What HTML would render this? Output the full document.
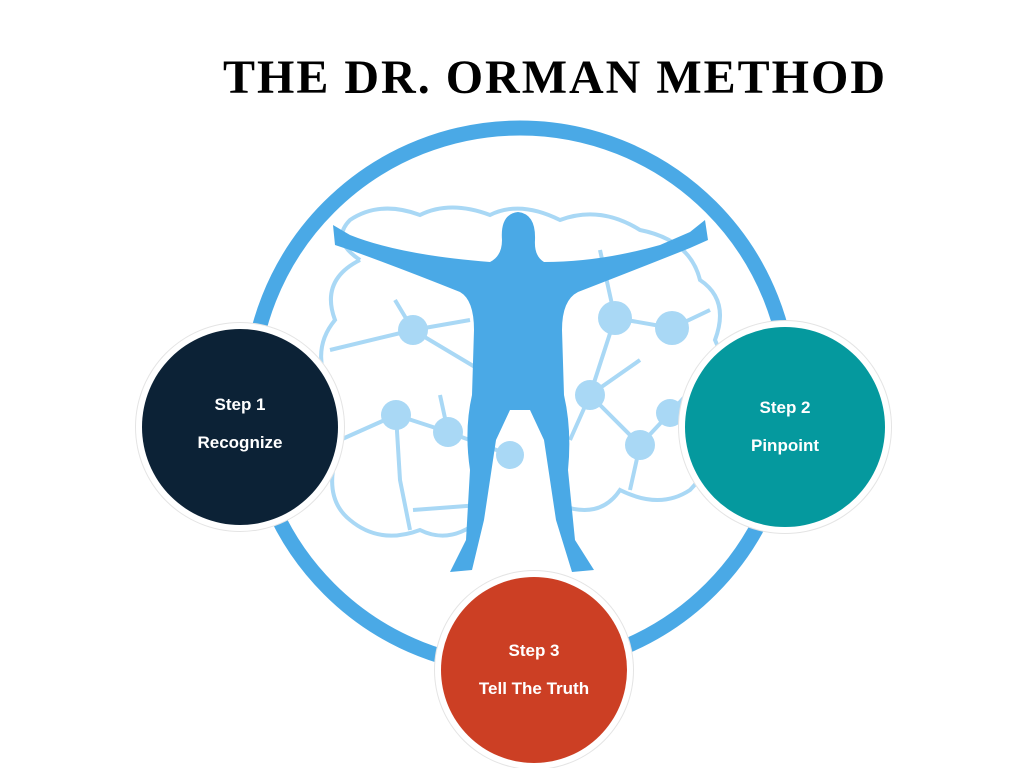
<!DOCTYPE html>
<html><head><meta charset="utf-8"><style>
html,body{margin:0;padding:0;background:#fff;}
body{width:1024px;height:768px;position:relative;overflow:hidden;font-family:"Liberation Sans",sans-serif;}
.title{position:absolute;left:0;width:1110px;top:50px;text-align:center;font-family:"Liberation Serif",serif;font-weight:bold;font-size:48px;letter-spacing:2px;color:#000;}
.c{position:absolute;border-radius:50%;color:#fff;font-weight:bold;font-size:17px;text-align:center;box-shadow:0 0 0 6px #fff,0 0 0 7px #e4e4e4;}
.c div{position:absolute;left:0;right:0;}
</style></head><body>
<div class="title">THE DR. ORMAN METHOD</div>
<svg width="1024" height="768" style="position:absolute;left:0;top:0">
<circle cx="520" cy="398" r="270" fill="none" stroke="#4aa9e6" stroke-width="15"/>
<g fill="none" stroke="#a9d8f5" stroke-width="4">
<path d="M360 260 Q330 240 350 220 Q380 200 420 215 Q450 200 490 215 Q520 200 560 220 Q600 205 640 230 Q690 240 700 280 Q730 300 715 340 Q735 380 700 420 Q720 460 690 490 Q660 510 620 490 Q600 520 560 505 M360 260 Q320 280 335 320 Q310 350 330 390 Q315 430 335 460 Q325 500 350 520 Q380 545 420 530 Q450 545 480 520"/>
<path d="M330 350 L413 330 L480 370 M413 330 L470 320 M413 330 L395 300 M396 415 L448 432 L510 455 M396 415 L340 440 M396 415 L400 480 L410 530 M448 432 L440 395 M590 395 L640 445 L670 413 L700 380 M590 395 L615 318 L672 328 L710 310 M615 318 L600 250 M590 395 L640 360 M640 445 L630 490 M590 395 L570 440 M413 510 L480 505"/>
</g>
<g fill="#a9d8f5">
<circle cx="413" cy="330" r="15"/><circle cx="396" cy="415" r="15"/><circle cx="448" cy="432" r="15"/>
<circle cx="510" cy="455" r="14"/><circle cx="615" cy="318" r="17"/><circle cx="672" cy="328" r="17"/>
<circle cx="590" cy="395" r="15"/><circle cx="640" cy="445" r="15"/><circle cx="670" cy="413" r="14"/><circle cx="485" cy="370" r="12"/>
</g>
<path fill="#4aa9e6" d="M518 212 Q536 214 535 240 Q534 256 544 262 Q600 262 660 245 L690 232 L705 220 L708 240 L690 248 Q640 268 578 292 Q562 300 562 330 L564 395 Q572 430 568 470 L575 540 L594 570 L572 572 L556 520 L544 440 L530 410 L510 410 L496 440 L484 520 L472 570 L450 572 L466 540 L470 470 Q464 430 472 395 L474 330 Q474 300 460 292 Q400 268 350 250 L335 245 L333 225 L350 235 Q400 255 490 262 Q502 256 502 240 Q500 214 518 212Z"/>
</svg>
<div class="c" style="left:142px;top:329px;width:196px;height:196px;background:#0c2236"><div style="top:66px">Step 1</div><div style="top:104px">Recognize</div></div>
<div class="c" style="left:685px;top:327px;width:200px;height:200px;background:#05999e"><div style="top:71px">Step 2</div><div style="top:109px">Pinpoint</div></div>
<div class="c" style="left:441px;top:577px;width:186px;height:186px;background:#cc3f24"><div style="top:64px">Step 3</div><div style="top:102px">Tell The Truth</div></div>
</body></html>
